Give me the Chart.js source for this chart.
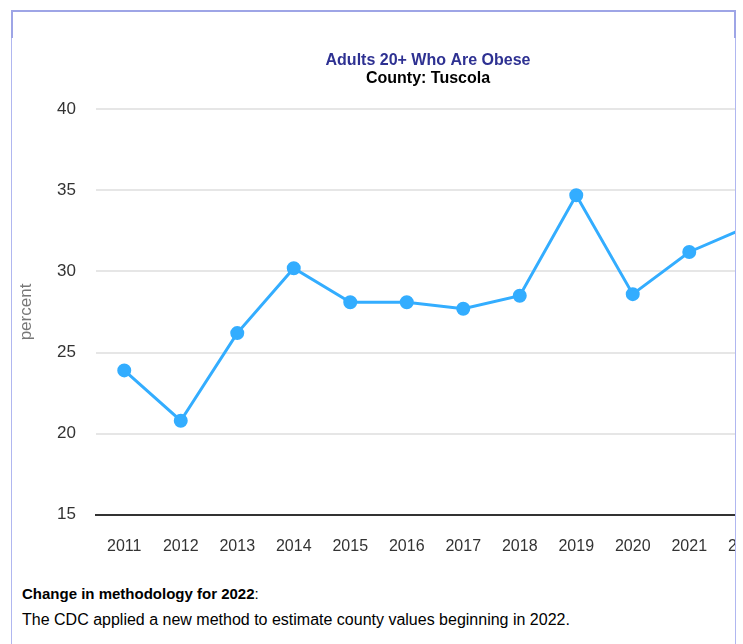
<!DOCTYPE html>
<html>
<head>
<meta charset="utf-8">
<script src="https://cdn.jsdelivr.net/npm/chart.js@4"></script>
<style>
  body { margin: 0; background: #fff; font-family: "Liberation Sans", Arial, sans-serif; }
  #box {
    position: absolute; left: 11px; top: 10px; width: 723px; height: 700px;
    border: 1px solid #b0b7f0; overflow: hidden;
  }
  #topbar { position: absolute; left: 11px; top: 10px; height: 28px; width: 725px;
    border-left: 2px solid #9ea5e6; border-right: 2px solid #9ea5e6; border-top: 2px solid #9ea5e6; box-sizing: border-box; }
  #wrap { position: absolute; left: 0; top: 27px; width: 832px; height: 532px; }
  .note { position: absolute; left: 10px; color: #000; }
</style>
</head>
<body>
<div id="box">
  <div id="wrap"><canvas id="chart1"></canvas></div>
  <div class="note" style="top: 574px; font-size: 15px;"><b>Change in methodology for 2022</b>:</div>
  <div class="note" style="top: 600px; font-size: 16px;">The CDC applied a new method to estimate county values beginning in 2022.</div>
</div>
<div id="topbar"></div>
<script>
const years = ['2011', '2012', '2013', '2014', '2015', '2016', '2017', '2018', '2019', '2020', '2021', '2022'];
const obese = [23.9, 20.8, 26.2, 30.2, 28.1, 28.1, 27.7, 28.5, 34.7, 28.6, 31.2, 32.7];
const yTicks = [15, 20, 25, 30, 35, 40];

const ctx = document.getElementById('chart1');

const myChart1 = new Chart(ctx, {
  type: 'line',
  data: {
    labels: years,
    datasets: [{
      label: 'percent',
      data: obese,
      borderColor: '#33adff',
      backgroundColor: '#33adff',
      borderWidth: 3,
      pointRadius: 5.5,
      pointHoverRadius: 5.5,
      tension: 0
    }]
  },
  options: {
    responsive: true,
    maintainAspectRatio: false,
    animation: false,
    layout: { padding: { left: 0, right: 0, top: 14, bottom: 0 } },
    plugins: {
      legend: { display: false },
      tooltip: { enabled: false },
      title: {
        display: true,
        text: 'Adults 20+ Who Are Obese',
        color: '#2e3192',
        font: { family: 'Liberation Sans', size: 16, weight: 'bold', lineHeight: 1.1 },
        padding: { top: 0, bottom: 0 }
      },
      subtitle: {
        display: true,
        text: 'County: Tuscola',
        color: '#000',
        font: { family: 'Liberation Sans', size: 16, weight: 'bold', lineHeight: 1.1 },
        padding: { top: 0, bottom: 22 }
      }
    },
    scales: {
      x: {
        offset: true,
        grid: { display: false },
        border: { display: true, color: '#333', width: 2 },
        ticks: { color: '#333', font: { family: 'Liberation Sans', size: 16 }, padding: 14, maxRotation: 0, autoSkip: false }
      },
      y: {
        min: 15,
        max: 40,
        afterBuildTicks: axis => { axis.ticks = yTicks.map(v => ({ value: v })); },
        afterFit: axis => { axis.width = 84; },
        border: { display: false },
        grid: { color: '#e6e6e6', lineWidth: 2, drawTicks: false },
        ticks: { color: '#333', font: { family: 'Liberation Sans', size: 17 }, padding: 20 },
        title: { display: true, text: 'percent', color: '#777', font: { family: 'Liberation Sans', size: 17 }, padding: { top: 4, bottom: 0 } }
      },
      // empty right-hand space, keeps the plot clear of the clipped edge
      yRight: {
        position: 'right',
        display: true,
        grid: { display: false },
        border: { display: false },
        ticks: { display: false },
        afterFit: axis => { axis.width = 70; }
      }
    }
  }
});
</script>
</body>
</html>
